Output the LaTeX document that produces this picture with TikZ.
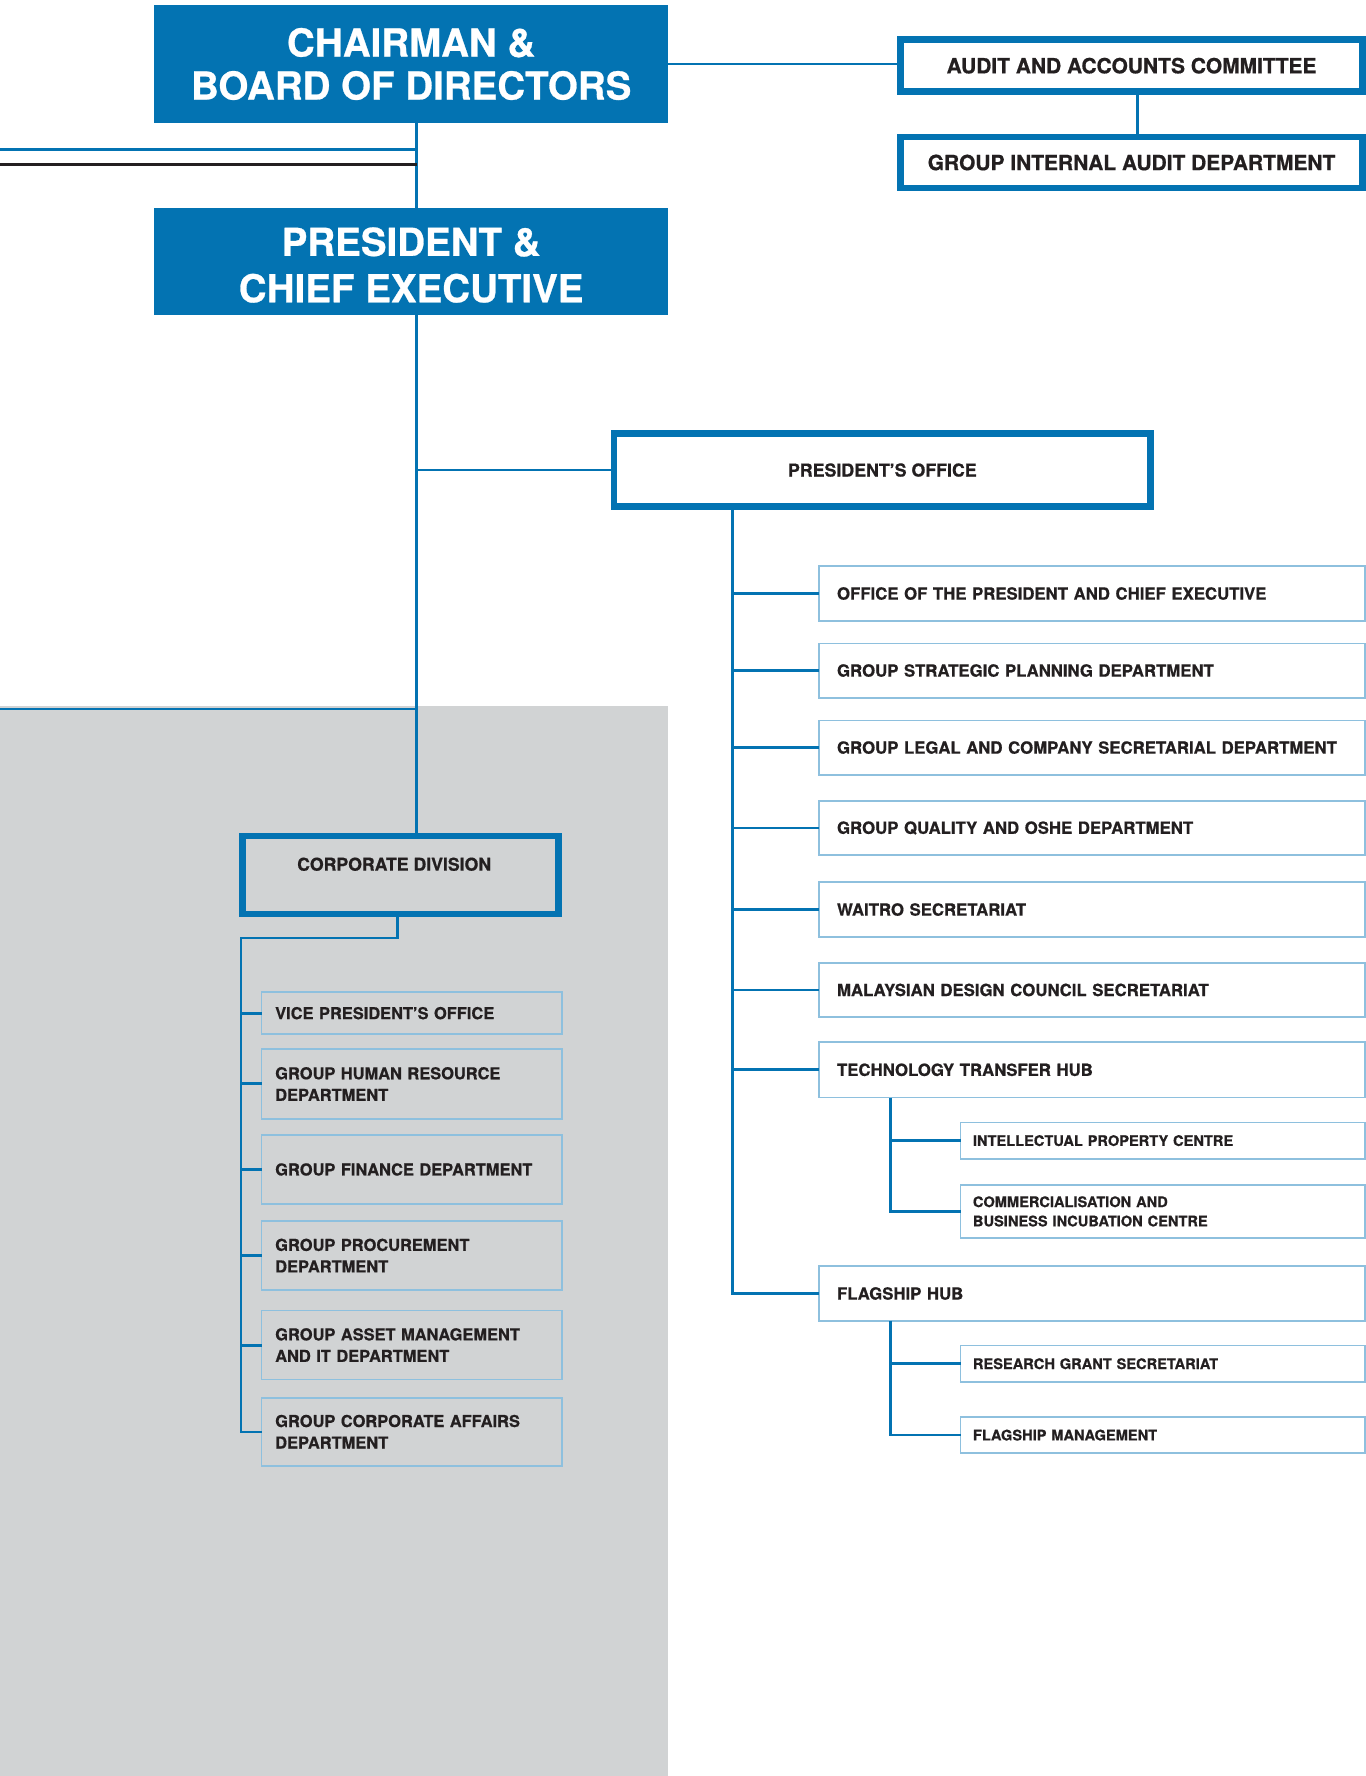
\documentclass[tikz,border=0pt]{standalone}
\usepackage{fontspec}
\setmainfont{TeX Gyre Heros}[BoldFeatures={FakeBold=0.7}]
\definecolor{cblue}{HTML}{0373B2}
\definecolor{lblue}{HTML}{8EC0DE}
\definecolor{cgrey}{HTML}{D1D3D4}
\definecolor{ctext}{HTML}{231F20}
\begin{document}
\begin{tikzpicture}[x=1pt,y=-1pt,
  every node/.style={inner sep=0pt,outer sep=0pt},
  bluebox/.style={fill=cblue,draw=none,minimum width=454,minimum height=#1,text=white,align=center},
  thickbox/.style={draw=cblue,line width=6pt,fill=white,text=ctext,align=center},
  rbox/.style={draw=lblue,line width=1.5pt,fill=white,text=ctext,text width=450,inner xsep=16,minimum height=#1,align=left,font=\bfseries\fontsize{14.8}{17}\selectfont},
  sbox/.style={draw=lblue,line width=1.5pt,fill=white,text=ctext,text width=335,inner xsep=11,minimum height=#1,align=left,font=\bfseries\fontsize{12.9}{17}\selectfont},
  lbox/.style={draw=lblue,line width=1.5pt,fill=cgrey,text=ctext,text width=241,inner xsep=12,minimum height=#1,align=left,font=\bfseries\fontsize{14.5}{19}\selectfont},
  conn/.style={draw=cblue,line width=2.4pt},
  blackline/.style={draw=ctext,line width=2.6pt}]
\useasboundingbox (0,0) rectangle (1206,1568);
\fill[cgrey] (0,623) rectangle (590,1568);
% top boxes
\node[bluebox=105,font=\bfseries\fontsize{34}{38}\selectfont] (ch) at (363,56.5) {CHAIRMAN \&\\BOARD OF DIRECTORS};
\node[bluebox=94] (pce) at (363,231) {};
\node[text=white,align=center,font=\bfseries\fontsize{34}{41}\selectfont] (pcet) at (363,234) {PRESIDENT \&\\CHIEF EXECUTIVE};
\node[thickbox,minimum width=408,minimum height=46,font=\bfseries\fontsize{18.5}{20}\selectfont] (aac) at (999,58) {AUDIT AND ACCOUNTS COMMITTEE};
\node[thickbox,minimum width=408,minimum height=45,font=\bfseries\fontsize{18.5}{20}\selectfont] (gia) at (999,143.5) {GROUP INTERNAL AUDIT DEPARTMENT};
\node[thickbox,minimum width=474,minimum height=64,font=\bfseries\fontsize{15.7}{18}\selectfont] (po) at (779,415) {PRESIDENT'S OFFICE};
\node[thickbox,fill=cgrey,minimum width=279,minimum height=69] (cd) at (353.5,772.5) {};
\node[text=ctext,font=\bfseries\fontsize{15.6}{18}\selectfont] (cdt) at (348,763) {CORPORATE DIVISION};
% right boxes
\node[rbox=48] (opce) at (964,524) {OFFICE OF THE PRESIDENT AND CHIEF EXECUTIVE};
\node[rbox=48] (gsp) at (964,592) {GROUP STRATEGIC PLANNING DEPARTMENT};
\node[rbox=48] (glc) at (964,660) {GROUP LEGAL AND COMPANY SECRETARIAL DEPARTMENT};
\node[rbox=48] (gqo) at (964,731) {GROUP QUALITY AND OSHE DEPARTMENT};
\node[rbox=48] (wai) at (964,803) {WAITRO SECRETARIAT};
\node[rbox=48] (mdc) at (964,874) {MALAYSIAN DESIGN COUNCIL SECRETARIAT};
\node[rbox=49] (tth) at (964,944.5) {TECHNOLOGY TRANSFER HUB};
\node[rbox=48] (fh) at (964,1142) {FLAGSHIP HUB};
\node[sbox=32] (ipc) at (1026.5,1007) {INTELLECTUAL PROPERTY CENTRE};
\node[sbox=47] (cbic) at (1026.5,1069.5) {COMMERCIALISATION AND\\BUSINESS INCUBATION CENTRE};
\node[sbox=32] (rgs) at (1026.5,1204) {RESEARCH GRANT SECRETARIAT};
\node[sbox=32] (fm) at (1026.5,1267) {FLAGSHIP MANAGEMENT};
% left boxes
\node[lbox=37] (vpo) at (363.5,894.5) {VICE PRESIDENT'S OFFICE};
\node[lbox=62] (ghr) at (363.5,957) {GROUP HUMAN RESOURCE\\DEPARTMENT};
\node[lbox=61] (gfd) at (363.5,1032.5) {GROUP FINANCE DEPARTMENT};
\node[lbox=61] (gpd) at (363.5,1108.5) {GROUP PROCUREMENT\\DEPARTMENT};
\node[lbox=61] (gam) at (363.5,1187.5) {GROUP ASSET MANAGEMENT\\AND IT DEPARTMENT};
\node[lbox=60] (gca) at (363.5,1264) {GROUP CORPORATE AFFAIRS\\DEPARTMENT};
% connectors
\coordinate (mx) at (368,0);
\coordinate (ax) at (1004,0);
\coordinate (l1) at (0,132);
\coordinate (l2) at (0,145);
\coordinate (l3) at (0,626);
\coordinate (rt) at (647,0);
\coordinate (st) at (786,0);
\coordinate (cdk) at (351,828);
\coordinate (lt) at (213,828);
\draw[conn] (ch.south -| mx) -- (pce.north -| mx);
\draw[conn] (pce.south -| mx) -- (cd.north -| mx);
\draw[conn] (po.west -| mx) -- (po.west);
\draw[conn] (ch.east) -- (ch.east -| aac.west);
\draw[conn] (aac.south -| ax) -- (gia.north -| ax);
\draw[conn] (l1) -- (l1 -| mx);
\draw[blackline] (l2) -- (l2 -| mx);
\draw[conn] (l3) -- (l3 -| mx);
\draw[conn] (po.south -| rt) |- (fh.west);
\foreach \b in {opce,gsp,glc,gqo,wai,mdc,tth} \draw[conn] (\b.west -| rt) -- (\b.west);
\draw[conn] (tth.south -| st) |- (cbic.west);
\draw[conn] (ipc.west -| st) -- (ipc.west);
\draw[conn] (fh.south -| st) |- (fm.west);
\draw[conn] (rgs.west -| st) -- (rgs.west);
\draw[conn,line width=2pt] (cd.south -| cdk) -- (cdk) -- (lt) |- (gca.west);
\foreach \b in {vpo,ghr,gfd,gpd,gam} \draw[conn,line width=2.6pt] (\b.west -| lt) -- (\b.west);
\end{tikzpicture}
\end{document}
